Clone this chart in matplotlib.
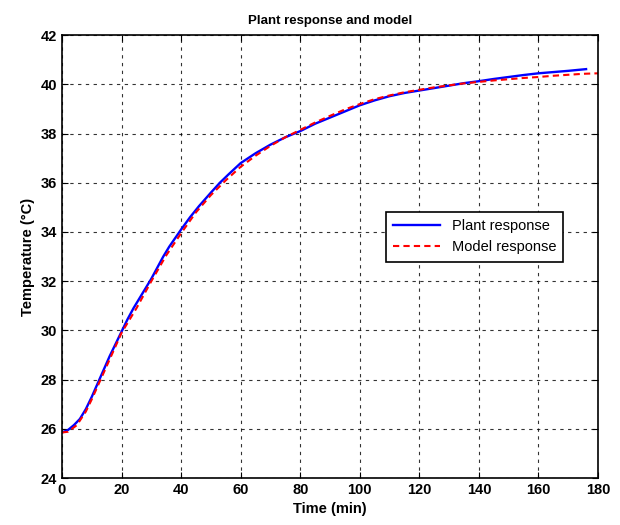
import matplotlib
matplotlib.use("Agg")
import matplotlib.pyplot as plt

# plant response
plant_t = [0, 2, 4, 6, 8, 10, 12, 14, 16, 18, 20, 22, 24, 26, 28, 30, 32, 34,
           36, 38, 40, 43, 46, 50, 53, 56, 60, 65, 70, 75, 80, 85, 90, 95,
           100, 105, 110, 115, 120, 125, 130, 135, 140, 145, 150, 155, 160,
           165, 170, 176]
plant_T = [25.85, 25.95, 26.15, 26.4, 26.8, 27.3, 27.85, 28.4, 28.95, 29.45,
           29.95, 30.45, 30.9, 31.3, 31.7, 32.1, 32.55, 33.0, 33.4, 33.75,
           34.1, 34.6, 35.05, 35.6, 36.0, 36.35, 36.8, 37.2, 37.55, 37.85,
           38.1, 38.4, 38.65, 38.9, 39.15, 39.35, 39.52, 39.65, 39.75, 39.85,
           39.95, 40.05, 40.13, 40.22, 40.3, 40.38, 40.45, 40.5, 40.55, 40.62]

# model response
model_t = [0, 2, 5, 8, 10, 15, 20, 25, 30, 35, 40, 45, 50, 55, 60, 65, 70, 75,
           80, 85, 90, 95, 100, 105, 110, 115, 120, 125, 130, 135, 140, 145,
           150, 155, 160, 165, 170, 175, 180]
model_T = [25.85, 25.88, 26.15, 26.7, 27.2, 28.55, 29.9, 30.9, 32.0, 33.05,
           33.95, 34.8, 35.5, 36.1, 36.65, 37.1, 37.5, 37.85, 38.15, 38.45,
           38.72, 38.98, 39.2, 39.4, 39.55, 39.68, 39.78, 39.88, 39.96, 40.04,
           40.1, 40.16, 40.21, 40.26, 40.3, 40.35, 40.39, 40.43, 40.45]

x_ticks = [0, 20, 40, 60, 80, 100, 120, 140, 160, 180]
y_ticks = [24, 26, 28, 30, 32, 34, 36, 38, 40, 42]

plt.rcParams["font.family"] = ["Liberation Sans", "DejaVu Sans"]

fig = plt.figure(figsize=(6.2, 5.25), dpi=100)
ax = fig.add_axes([0.1, 0.0895, 0.8645, 0.8435])

ax.plot(plant_t, plant_T, color="blue", linewidth=1.7, label="Plant response")
ax.plot(model_t, model_T, color="red", linewidth=1.5, linestyle=(0, (3, 2)),
        label="Model response")

ax.set_xlim(0, 180)
ax.set_ylim(24, 42)
ax.set_xticks(x_ticks)
ax.set_yticks(y_ticks)
ax.tick_params(direction="in", top=True, right=True, length=4, labelsize=10.5)
for lab in ax.get_xticklabels() + ax.get_yticklabels():
    lab.set_fontweight("bold")
ax.grid(True, color="black", linestyle=(0, (3, 4)), linewidth=0.8, alpha=0.8)
for s in ax.spines.values():
    s.set_linewidth(1.2)

ax.set_title("Plant response and model", fontsize=9.5, fontweight="bold", pad=8)
ax.set_xlabel("Time (min)", fontsize=10.5, fontweight="bold")
ax.set_ylabel("Temperature (\u00b0C)", fontsize=10.5, fontweight="bold")

leg = ax.legend(loc="center", bbox_to_anchor=(0.77, 0.545), fontsize=10.5,
                fancybox=False, framealpha=1, edgecolor="black",
                handlelength=3.2, borderpad=0.5)
leg.get_frame().set_linewidth(1.2)

fig.savefig("out.png", dpi=100)
plt.close(fig)
